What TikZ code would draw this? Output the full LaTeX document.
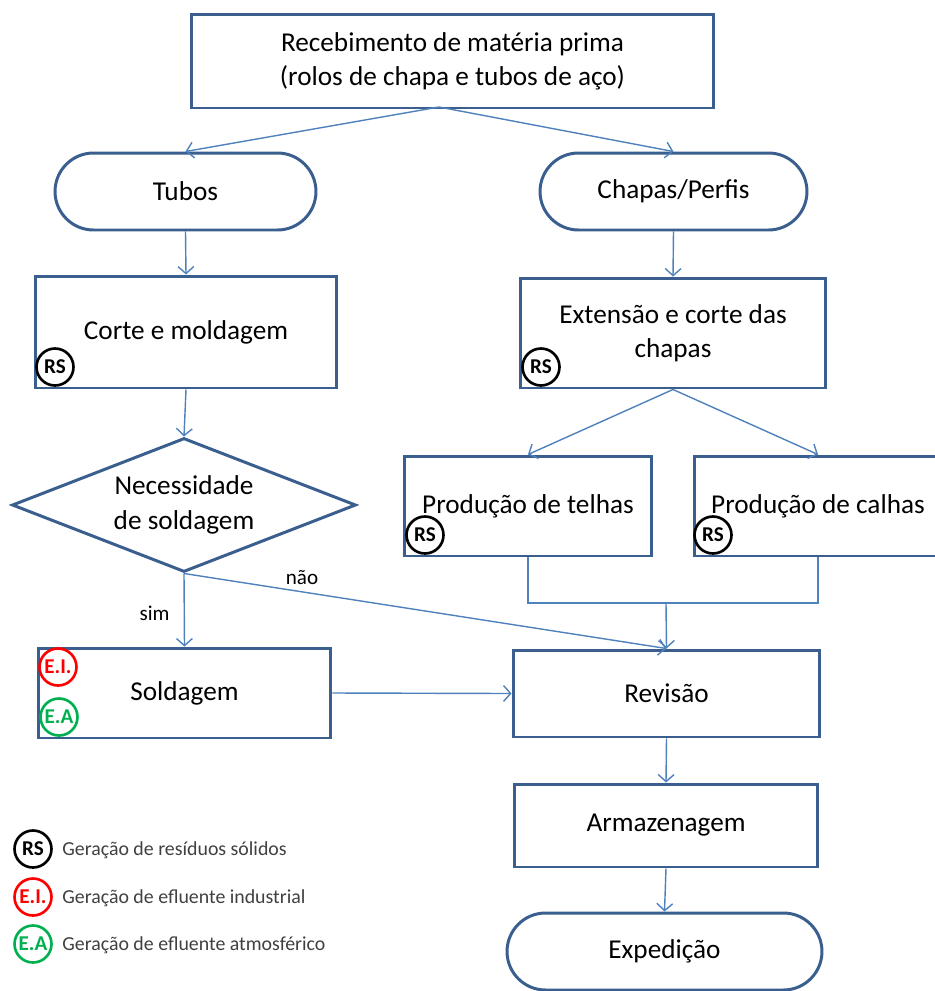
\documentclass[tikz,border=0pt]{standalone}
\usepackage{fontspec}
\setmainfont{Carlito}
\usetikzlibrary{shapes.geometric,shapes.misc,arrows.meta}
\definecolor{boxblue}{HTML}{3A5F8F}
\definecolor{arrblue}{HTML}{4F81BD}
\definecolor{legtxt}{HTML}{404040}
\definecolor{eired}{HTML}{FF0000}
\definecolor{eagreen}{HTML}{00B050}
\begin{document}
\begin{tikzpicture}[x=0.02cm,y=-0.02cm,
  every node/.style={font=\fontsize{15.5}{19.5}\selectfont, text=black},
  box/.style={draw=boxblue, line width=1.7pt, fill=white, rectangle, align=center, inner sep=0pt},
  term/.style={draw=boxblue, line width=1.7pt, fill=white, rounded rectangle, align=center, inner sep=0pt},
  decision/.style={draw=boxblue, line width=1.7pt, fill=white, diamond, aspect=2.567, align=center, inner sep=0pt, minimum width=6.88cm, minimum height=2.68cm},
  arr/.style={draw=arrblue, line width=0.8pt, -{Straight Barb[length=4pt,width=9pt]}},
  conn/.style={draw=arrblue, line width=0.8pt},
  badge/.style={circle, draw, line width=1.5pt, fill=white, minimum size=0.74cm, inner sep=0pt, font=\fontsize{12}{13}\selectfont\bfseries},
  legend/.style={anchor=west, inner sep=0pt, font=\fontsize{11.3}{13}\selectfont, text=legtxt},
  lbl/.style={inner sep=0pt, font=\fontsize{12}{14}\selectfont}
]
\useasboundingbox (0,0) rectangle (934,991);

\node[box, minimum width=10.46cm, minimum height=1.88cm] (top) at (452.5,61) {Recebimento de matéria prima\\(rolos de chapa e tubos de aço)};
\node[term, minimum width=5.22cm, minimum height=1.54cm] (tubos) at (185.5,191.5) {Tubos};
\node[term, minimum width=5.34cm, minimum height=1.54cm] (chapas) at (673.5,191.5) {Chapas/Perfis};
\node[box, minimum width=6.04cm, minimum height=2.24cm] (corte) at (186,332) {Corte e moldagem};
\node[box, minimum width=6.12cm, minimum height=2.2cm] (ext) at (673,333) {Extensão e corte das\\chapas};
\node[decision] (dia) at (184,505) {Necessidade\\de soldagem};
\node[box, minimum width=4.96cm, minimum height=2.0cm] (telhas) at (528,506) {Produção de telhas};
\node[box, minimum width=4.96cm, minimum height=2.0cm] (calhas) at (818,506) {Produção de calhas};
\node[box, minimum width=5.86cm, minimum height=1.8cm] (sold) at (184.5,693) {Soldagem};
\node[box, minimum width=6.14cm, minimum height=1.74cm] (rev) at (666.5,693.5) {Revisão};
\node[box, minimum width=6.08cm, minimum height=1.66cm] (arm) at (666,825.5) {Armazenagem};
\node[term, minimum width=6.3cm, minimum height=1.54cm] (exp) at (664.5,951.5) {Expedição};

% badges
\node[badge, draw=black] (rs1) at (55,367) {RS};
\node[badge, draw=black] (rs2) at (541,367) {RS};
\node[badge, draw=black] (rs3) at (425,535) {RS};
\node[badge, draw=black] (rs4) at (713,535) {RS};
\node[badge, draw=eired, text=eired] (ei1) at (58,667) {E.I.};
\node[badge, draw=eagreen, text=eagreen] (ea1) at (59,717) {E.A};

% connectors
\coordinate (ts) at (439,107);
\draw[arr] (ts) -- (tubos.north);
\draw[arr] (ts) -- (chapas.north);
\draw[arr] (tubos.south) -- (corte.north);
\draw[arr] (chapas.south) -- (ext.north);
\draw[arr] (corte.south) -- (dia.north);
\draw[arr] (dia.south) -- node[lbl, left=8pt, pos=0.55] (sim) {sim} (sold.north);
\draw[arr] (dia.south) -- (rev.north);
\node[lbl] (nao) at (302,578) {não};
\draw[arr] (ext.south) -- (telhas.north);
\draw[arr] (ext.south) -- (calhas.north);
\coordinate (merge) at (666,603);
\draw[conn] (telhas.south) -- (telhas.south |- merge) -- (calhas.south |- merge) -- (calhas.south);
\draw[arr] (merge) -- (rev.north);
\draw[arr] (sold.east) -- (rev.west);
\draw[arr] (rev.south) -- (arm.north);
\draw[arr] (arm.south) -- (exp.north);

% legend
\node[badge, draw=black] (l1) at (33,849) {RS};
\node[badge, draw=eired, text=eired] (l2) at (33,897) {E.I.};
\node[badge, draw=eagreen, text=eagreen] (l3) at (33,944) {E.A};
\node[legend] (lt1) at (62,850) {Geração de resíduos sólidos};
\node[legend] (lt2) at (62,898) {Geração de efluente industrial};
\node[legend] (lt3) at (62,945) {Geração de efluente atmosférico};
\end{tikzpicture}
\end{document}
